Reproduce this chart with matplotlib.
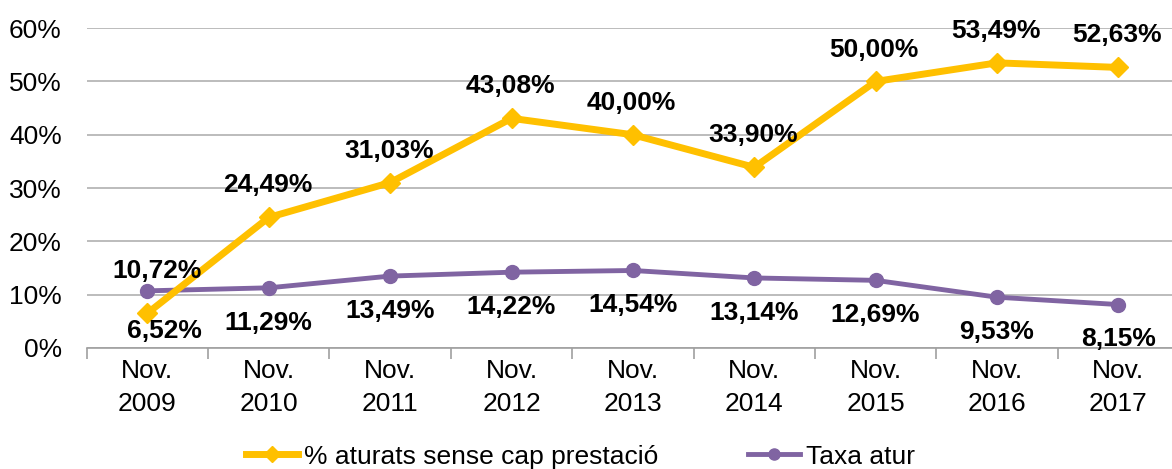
import numpy as np
import matplotlib
matplotlib.use("Agg")
import matplotlib.pyplot as plt
from matplotlib.ticker import FixedLocator

plt.rcParams['font.family'] = ['Liberation Sans', 'DejaVu Sans']

# data
years = ["2009", "2010", "2011", "2012", "2013", "2014", "2015", "2016", "2017"]
sense_prestacio = [6.52, 24.49, 31.03, 43.08, 40.00, 33.90, 50.00, 53.49, 52.63]
taxa_atur = [10.72, 11.29, 13.49, 14.22, 14.54, 13.14, 12.69, 9.53, 8.15]
yticks = [0, 10, 20, 30, 40, 50, 60]

yellow = "#FFC000"
purple = "#8064A2"

def fmt(v):
    return f"{v:.2f}%".replace(".", ",")

fig = plt.figure(figsize=(11.72, 4.69), dpi=100)
ax = fig.add_axes([0.074, 0.258, 0.932, 0.682])

x = np.arange(len(years))
ax.plot(x, taxa_atur, color=purple, lw=3.5, marker="o", ms=10,
        label="Taxa atur", zorder=3)
ax.plot(x, sense_prestacio, color=yellow, lw=5, marker="D", ms=10.5,
        label="% aturats sense cap prestació", zorder=4)

# data labels: yellow above (first one below), purple below (first one above)
for i, v in enumerate(sense_prestacio):
    if i == 0:
        off, dx = -13, 12
    else:
        off, dx = 23, -1
    ax.annotate(fmt(v), (x[i], v), xytext=(dx, off), textcoords="offset points",
                ha="center", va="center", fontsize=19, fontweight="bold",
                color="black", zorder=5)
for i, v in enumerate(taxa_atur):
    if i == 0:
        off, dx = 14, 7
    else:
        off, dx = -25, 0
    ax.annotate(fmt(v), (x[i], v), xytext=(dx, off), textcoords="offset points",
                ha="center", va="center", fontsize=19, fontweight="bold",
                color="black", zorder=5)

ax.set_xlim(-0.5, len(years) - 0.5)
ax.set_ylim(0, 60)
ax.set_yticks(yticks)
ax.set_yticklabels([f"{t}%" for t in yticks], fontsize=19)
ax.set_xticks(x)
ax.set_xticklabels([f"Nov.\n{y}" for y in years], fontsize=19, linespacing=1.45)
ax.xaxis.set_minor_locator(FixedLocator(np.arange(-0.5, len(years), 1.0)))
ax.tick_params(axis="x", which="major", length=0, pad=8)
ax.tick_params(axis="x", which="minor", length=8, color="#A0A0A0", width=1.2)
ax.tick_params(axis="y", length=0, pad=18)

ax.grid(axis="y", color="#B0B0B0", lw=1.2)
ax.set_axisbelow(True)
for s in ["left", "right", "top"]:
    ax.spines[s].set_visible(False)
ax.spines["bottom"].set_color("#A0A0A0")
ax.spines["bottom"].set_linewidth(1.2)

handles, labels = ax.get_legend_handles_labels()
fig.legend(handles[::-1], labels[::-1], loc="lower center", ncol=2,
           bbox_to_anchor=(0.495, -0.05), frameon=False, fontsize=19,
           handlelength=2.0, handletextpad=0.2, columnspacing=3.4,
           markerscale=0.8)

fig.savefig("out.png", dpi=100)
